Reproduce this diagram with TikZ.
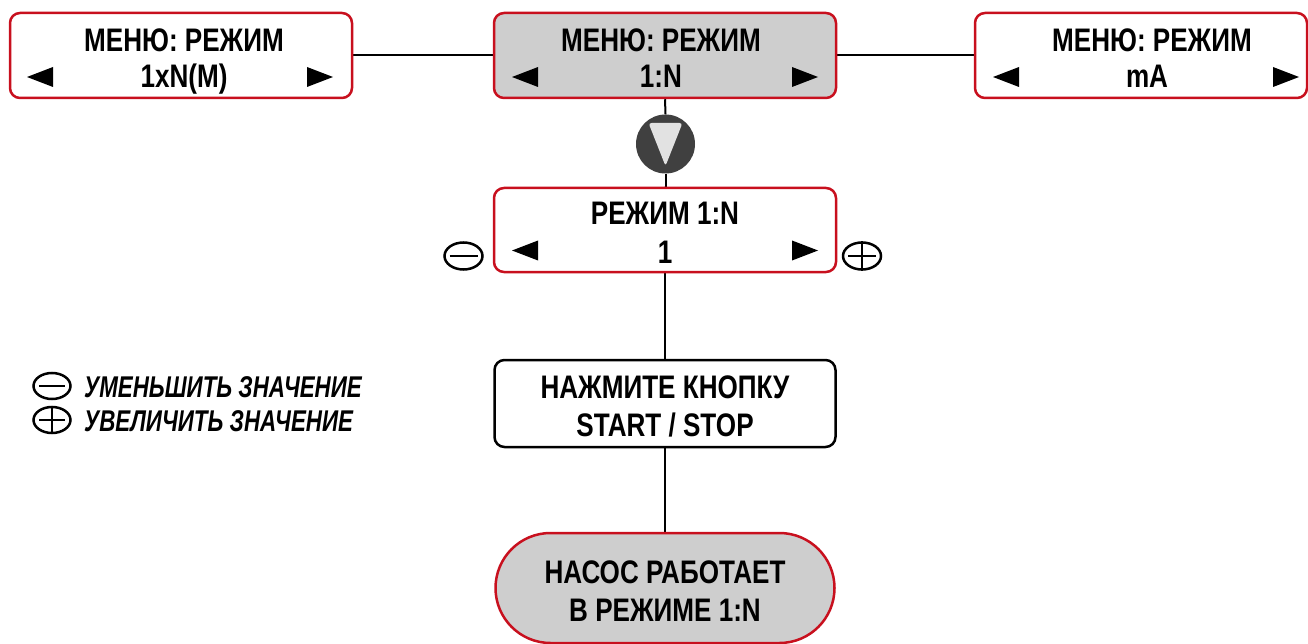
\documentclass[tikz,border=0pt]{standalone}
\usepackage{fontspec}
\setmainfont{Liberation Sans}[FakeStretch=0.80]
\newfontfamily\legfont{Liberation Sans}[FakeStretch=0.745]
\usetikzlibrary{calc,shapes.geometric,backgrounds}
\definecolor{bred}{RGB}{200,16,30}
\definecolor{bgray}{RGB}{206,206,206}
\definecolor{dgray}{RGB}{64,64,64}
\definecolor{lgray}{RGB}{226,226,226}
\begin{document}
\begin{tikzpicture}[x=1pt,y=-1pt,
  box/.style={draw=bred, line width=2.5pt, rounded corners=10pt, fill=white,
    minimum width=#1, minimum height=85pt, inner sep=0pt},
  graybox/.style={box=#1, fill=bgray},
  blackbox/.style={draw=black, line width=2.5pt, rounded corners=10pt, fill=white,
    minimum width=341pt, minimum height=87pt, inner sep=0pt},
  stadium/.style={draw=bred, line width=2.5pt, rounded corners=55pt, fill=bgray,
    minimum width=339pt, minimum height=110pt, inner sep=0pt},
  lbl/.style={font=\bfseries\fontsize{32.6}{36}\selectfont, inner sep=0pt, anchor=base},
  leg/.style={font=\legfont\bfseries\itshape\fontsize{30}{34}\selectfont, inner sep=0pt, anchor=base west},
  conn/.style={draw=black, line width=2pt},
  sym/.style={ellipse, draw=black, line width=2.5pt, minimum width=38pt, minimum height=27pt, inner sep=0pt},
  bar/.style={line width=2.5pt},
  larr/.pic={\fill[black] (13,-10) -- (13,10) -- (-13,0) -- cycle;},
  rarr/.pic={\fill[black] (-13,-10) -- (-13,10) -- (13,0) -- cycle;},
]
\useasboundingbox (0,0) rectangle (1308,644);

% top row
\node[box=342pt] (tl) at (181,55.5) {};
\node[graybox=342pt] (tc) at (665,55.5) {};
\node[box=332pt] (tr) at (1141,55.5) {};
\node[lbl] (tl1) at (184,52) {МЕНЮ: РЕЖИМ};
\node[lbl] (tl2) at (184,88) {1xN(M)};
\node[lbl] (tc1) at (661,52) {МЕНЮ: РЕЖИМ};
\node[lbl] (tc2) at (661,88) {1:N};
\node[lbl] (tr1) at (1152,52) {МЕНЮ: РЕЖИМ};
\node[lbl] (tr2) at (1147,88) {mA};
\pic at (40,77) {larr}; \pic at (320,77) {rarr};
\pic at (525,77) {larr}; \pic at (805,77) {rarr};
\pic at (1006,77) {larr}; \pic at (1286,77) {rarr};

% circle with down triangle
\node[circle, fill=dgray, minimum size=59pt, inner sep=0pt] (dn) at (665.5,144) {};
\draw[conn] (tc.south) -- (dn.north);
\draw[conn] (dn.south) -- ($(dn.south)+(0,16)$) coordinate (dnx);
\fill[lgray, rounded corners=3pt] ($(dn.center)+(-17,-21)$) -- ($(dn.center)+(17,-21)$) -- ($(dn.center)+(0,22)$) -- cycle;

% middle box
\node[box=342pt, minimum height=84pt] (mid) at (665,230) {};
\node[lbl] (mid1) at (665,225) {РЕЖИМ 1:N};
\node[lbl] (mid2) at (665,263) {1};
\pic at (525,250.5) {larr}; \pic at (805,250.5) {rarr};
\node[sym] (mn) at (463.5,256) {};
\draw[bar] ($(mn.center)+(-14,0)$) -- ($(mn.center)+(14,0)$);
\node[sym] (pl) at (862,256) {};
\draw[bar] ($(pl.center)+(-14,0)$) -- ($(pl.center)+(14,0)$);
\draw[bar] (pl.north) -- (pl.south);

% button box
\node[blackbox] (btn) at (665,403.5) {};
\node[lbl] (btn1) at (665,398) {НАЖМИТЕ КНОПКУ};
\node[lbl] (btn2) at (665,436) {START / STOP};

% final state
\node[stadium] (run) at (665,588) {};
\node[lbl] (run1) at (665,583) {НАСОС РАБОТАЕТ};
\node[lbl] (run2) at (665,621) {В РЕЖИМЕ 1:N};

% legend
\node[sym, minimum width=37pt, minimum height=26pt] (lm) at (52,386) {};
\draw[bar] ($(lm.center)+(-13,0)$) -- ($(lm.center)+(13,0)$);
\node[sym, minimum width=37pt, minimum height=26pt] (lp) at (52,420) {};
\draw[bar] ($(lp.center)+(-13,0)$) -- ($(lp.center)+(13,0)$);
\draw[bar] (lp.north) -- (lp.south);
\node[leg] (lt1) at (84,397) {УМЕНЬШИТЬ ЗНАЧЕНИЕ};
\node[leg] (lt2) at (84,431) {УВЕЛИЧИТЬ ЗНАЧЕНИЕ};

% connectors
\begin{scope}[on background layer]
\draw[conn] (tl.east) -- (tc.west);
\draw[conn] (tc.east) -- (tr.west);
\draw[conn] (dnx) -- (mid.north);
\draw[conn] (mid.south) -- (btn.north);
\draw[conn] (btn.south) -- (run.north);
\end{scope}
\end{tikzpicture}
\end{document}
